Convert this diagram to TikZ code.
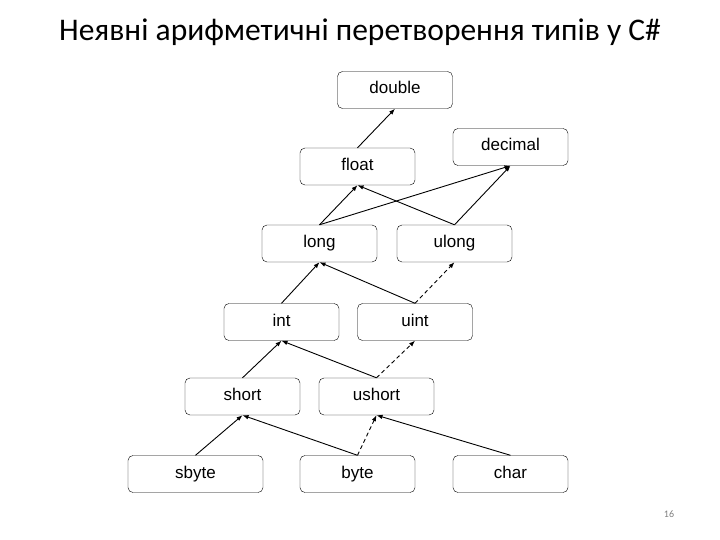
\documentclass[tikz,border=0pt]{standalone}
\usepackage{fontspec}
\setmainfont{Liberation Sans}
\newfontfamily\titlefont{Carlito}
\usetikzlibrary{arrows.meta}

\begin{document}
\begin{tikzpicture}[
  x=1pt, y=-1pt,
  box/.style={draw, rounded corners=5pt, align=center, minimum width=115pt, minimum height=37pt, inner sep=0pt, text height=12pt, text depth=4pt, font=\fontsize{17}{19}\selectfont},
  arrow/.style={-{Latex[length=6pt, width=4.5pt]}, line width=0.9pt},
  dasharrow/.style={arrow, dash pattern=on 4pt off 3pt}
]
\useasboundingbox (0,0) rectangle (720,540);

\node[anchor=base, font=\titlefont\fontsize{31.5}{36}\selectfont] (title) at (360,41) {Неявні арифметичні перетворення типів у C\#};

\node[box] (double) at (395,90) {double};
\node[box] (decimal) at (510.5,147) {decimal};
\node[box] (float) at (357.5,166.5) {float};
\node[box] (long) at (319.5,243.5) {long};
\node[box] (ulong) at (454.5,243.5) {ulong};
\node[box] (int) at (281.5,322) {int};
\node[box] (uint) at (415,322) {uint};
\node[box] (short) at (242.5,396.5) {short};
\node[box] (ushort) at (376.5,396.5) {ushort};
\node[box, minimum width=135pt] (sbyte) at (195.5,474) {sbyte};
\node[box] (byte) at (357.5,474) {byte};
\node[box] (char) at (510.5,474) {char};

\draw[arrow] (float.north) -- (double.south);
\draw[arrow] (long.north) -- (float.south);
\draw[arrow] (long.north) -- (decimal.south);
\draw[arrow] (ulong.north) -- (float.south);
\draw[arrow] (ulong.north) -- (decimal.south);
\draw[arrow] (int.north) -- (long.south);
\draw[arrow] (uint.north) -- (long.south);
\draw[dasharrow] (uint.north) -- (ulong.south);
\draw[arrow] (short.north) -- (int.south);
\draw[arrow] (ushort.north) -- (int.south);
\draw[dasharrow] (ushort.north) -- (uint.south);
\draw[arrow] (sbyte.north) -- (short.south);
\draw[arrow] (byte.north) -- (short.south);
\draw[dasharrow] (byte.north) -- (ushort.south);
\draw[arrow] (char.north) -- (ushort.south);

\node[font=\titlefont\fontsize{10}{12}\selectfont, text=gray] (page) at (669,514) {16};
\end{tikzpicture}
\end{document}
